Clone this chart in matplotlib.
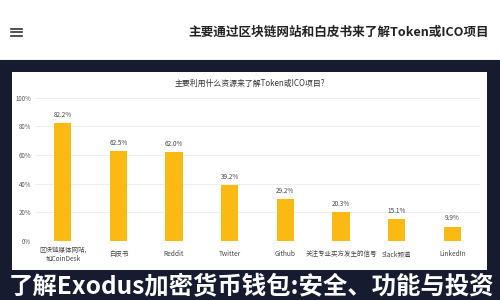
import matplotlib
matplotlib.use('Agg')
import matplotlib.pyplot as plt
from matplotlib.patches import Rectangle
from matplotlib.lines import Line2D

plt.rcParams['font.family'] = ['Noto Sans CJK SC', 'DejaVu Sans']

# data
categories = ['区块链媒体网站,\n如CoinDesk', '白皮书', 'Reddit', 'Twitter', 'Github',
              '关注专业买方发生的信号', 'Slack频道', 'LinkedIn']
values = [82.2, 62.5, 62.0, 39.2, 29.2, 20.3, 15.1, 9.9]
yticks = [0, 20, 40, 60, 80, 100]

page_title = '主要通过区块链网站和白皮书来了解Token或ICO项目'
chart_title = '主要利用什么资源来了解Token或ICO项目?'
banner = '了解Exodus加密货币钱包:安全、功能与投资'

bar_color = '#fbb914'
navy = '#161b2f'

fig = plt.figure(figsize=(5, 3), dpi=100)
fig.patch.set_facecolor('white')

# dark frame and white card (behind the axes)
fig.patches.append(Rectangle((0, 0), 1, 0.8, transform=fig.transFigure,
                             facecolor=navy, edgecolor='none', zorder=-2))
fig.patches.append(Rectangle((0.024, 0.1), 0.95, 0.66, transform=fig.transFigure,
                             facecolor='white', edgecolor='none', zorder=-1))

# header: menu icon + title
for yy in (0.905, 0.893, 0.881):
    fig.add_artist(Line2D([0.022, 0.044], [yy, yy], transform=fig.transFigure,
                          color='#333333', lw=1.2))
fig.text(0.677, 0.893, page_title, ha='center', va='center', fontsize=9.1,
         fontweight='bold', color='#222222')
fig.add_artist(Line2D([0, 1], [0.803, 0.803], transform=fig.transFigure,
                      color='#eeeeee', lw=0.6))

ax = fig.add_axes([0.07, 0.197, 0.89, 0.477])
x = range(len(categories))
ax.bar(x, values, width=0.31, color=bar_color, zorder=3)
for xi, v in zip(x, values):
    ax.text(xi, v + 3, f'{v:.1f}%', ha='center', va='bottom', fontsize=4.6, color='#444444')

ax.set_xlim(-0.5, len(categories) - 0.5)
ax.set_ylim(0, 100)
ax.set_yticks(yticks)
ax.set_yticklabels([f'{t}%' for t in yticks], fontsize=4.4, color='#555555')
ax.set_xticks(list(x))
ax.set_xticklabels(categories, fontsize=4.7, color='#444444', linespacing=1.1,
                   va='center')
ax.tick_params(axis='x', length=0, pad=9.5)
ax.tick_params(axis='y', length=0, pad=3)
ax.grid(axis='y', color='#eeeeee', lw=0.7, zorder=0)
for s in ax.spines.values():
    s.set_visible(False)
ax.set_facecolor('none')

fig.text(0.5, 0.723, chart_title, ha='center', va='center', fontsize=5.7, color='#333333')

# banner text on the dark frame
fig.text(0.503, 0.047, banner, ha='center', va='center', fontsize=17.6,
         fontweight='bold', color='white')

fig.savefig('out.png', dpi=100)
